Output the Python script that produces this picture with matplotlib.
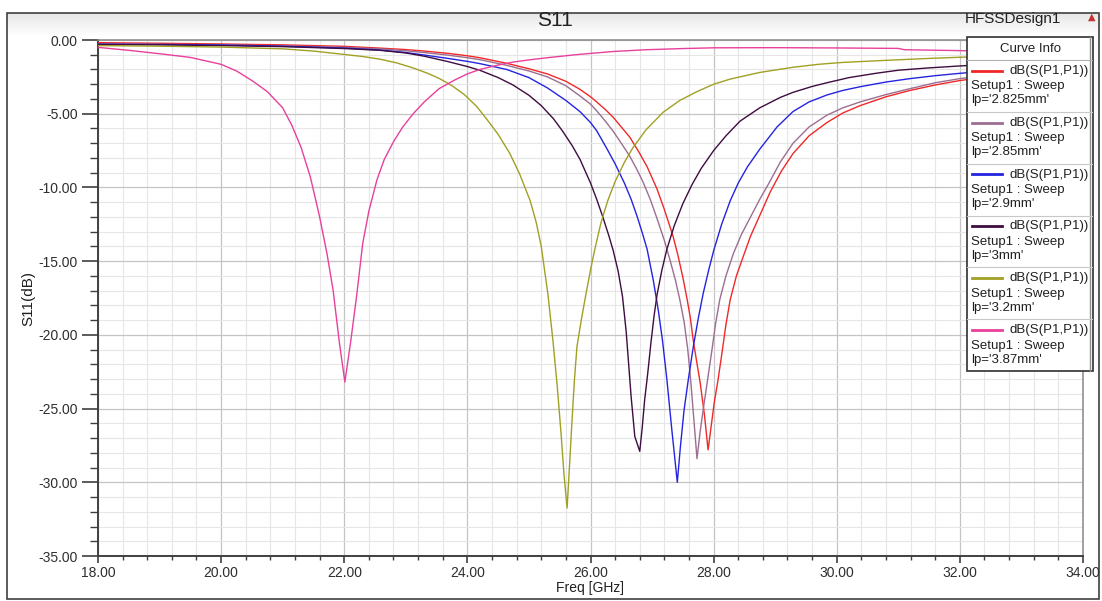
import matplotlib
matplotlib.use("Agg")
import matplotlib.pyplot as plt
import numpy as np
from matplotlib.patches import Rectangle

plt.rcParams['font.family'] = ['Liberation Sans', 'DejaVu Sans']

# ---------------- data ----------------
lp_labels = ["2.825mm", "2.85mm", "2.9mm", "3mm", "3.2mm", "3.87mm"]

freq_2825 = [18, 19, 20, 21, 22, 22.58, 23.0, 23.3, 23.67, 24.0, 24.2, 24.64, 25.0, 25.3, 25.6,
             25.83, 26.0, 26.1, 26.25, 26.37, 26.5, 26.64, 26.8, 26.92, 27.08, 27.2, 27.34,
             27.42, 27.5, 27.57, 27.62, 27.67, 27.72, 27.78, 27.85, 27.91, 27.96, 28.01, 28.07,
             28.14, 28.2, 28.27, 28.37, 28.48, 28.6, 28.75, 28.92, 29.1, 29.29, 29.55, 29.84,
             30.1, 30.38, 30.8, 31.19, 31.6, 32.0, 33.0, 34.0]
s11_2825 = [-0.18, -0.22, -0.27, -0.33, -0.43, -0.55, -0.65, -0.75, -0.9, -1.07, -1.2, -1.58, -1.95,
            -2.3, -2.8, -3.35, -3.85, -4.2, -4.75, -5.25, -5.9, -6.6, -7.7, -8.6, -10.1, -11.5,
            -13.3, -14.6, -16.1, -17.6, -18.8, -20.4, -21.7, -23.2, -25.4, -27.8, -26.2, -24.6,
            -23.1, -21.1, -19.3, -17.6, -16.0, -14.7, -13.3, -11.9, -10.3, -8.9, -7.7, -6.5,
            -5.6, -4.95, -4.45, -3.85, -3.42, -3.05, -2.75, -2.2, -1.9]

freq_285 = [18, 19, 20, 21, 22, 22.58, 23.0, 23.3, 23.67, 24.0, 24.2, 24.64, 25.0, 25.3, 25.6,
            25.83, 26.0, 26.1, 26.25, 26.37, 26.5, 26.64, 26.75, 26.85, 26.97, 27.08, 27.2,
            27.29, 27.38, 27.45, 27.52, 27.58, 27.63, 27.68, 27.73, 27.78, 27.84, 27.9, 27.97,
            28.03, 28.1, 28.2, 28.32, 28.45, 28.6, 28.75, 28.9, 29.08, 29.29, 29.55, 29.84,
            30.1, 30.38, 30.8, 31.19, 31.6, 32.0, 33.0, 34.0]
s11_285 = [-0.27, -0.3, -0.33, -0.4, -0.5, -0.6, -0.73, -0.85, -1.02, -1.2, -1.33, -1.72, -2.1,
           -2.5, -3.1, -3.8, -4.35, -4.8, -5.55, -6.2, -7.0, -7.9, -8.75, -9.6, -10.8, -12.1,
           -13.6, -14.9, -16.3, -17.6, -19.1, -21.0, -23.2, -25.8, -28.4, -26.6, -24.8, -23.1,
           -21.1, -19.3, -17.6, -16.0, -14.5, -13.2, -12.0, -10.8, -9.7, -8.3, -7.0, -5.9,
           -5.1, -4.6, -4.2, -3.7, -3.3, -2.9, -2.62, -2.1, -1.8]

freq_29 = [18, 19, 20, 21, 22, 22.58, 23.0, 23.3, 23.67, 24.0, 24.2, 24.64, 25.0, 25.3, 25.6,
           25.83, 26.0, 26.1, 26.27, 26.4, 26.55, 26.66, 26.76, 26.85, 26.92, 27.02, 27.1,
           27.17, 27.24, 27.32, 27.41, 27.46, 27.52, 27.59, 27.67, 27.75, 27.83, 27.92, 28.0,
           28.13, 28.27, 28.4, 28.55, 28.75, 29.03, 29.29, 29.55, 29.84, 30.1, 30.38, 30.8,
           31.19, 31.6, 32.0, 33.0, 34.0]
s11_29 = [-0.28, -0.3, -0.34, -0.42, -0.55, -0.68, -0.85, -1.02, -1.24, -1.45, -1.6, -2.0, -2.55,
          -3.25, -4.1, -4.86, -5.6, -6.15, -7.4, -8.4, -9.7, -10.8, -12.0, -13.2, -14.2, -16.3,
          -18.3, -20.4, -23.0, -26.4, -30.0, -27.6, -25.1, -23.0, -20.8, -18.9, -17.2, -15.6,
          -14.3, -12.5, -10.9, -9.7, -8.6, -7.4, -5.9, -4.85, -4.2, -3.73, -3.42, -3.17, -2.85,
          -2.62, -2.42, -2.26, -1.92, -1.7]

freq_3 = [18, 19, 20, 21, 22, 22.58, 23.0, 23.3, 23.67, 24.0, 24.2, 24.5, 24.74, 25.0, 25.2,
          25.4, 25.55, 25.7, 25.83, 26.0, 26.1, 26.2, 26.3, 26.37, 26.45, 26.52, 26.58, 26.62,
          26.66, 26.72, 26.76, 26.8, 26.84, 26.88, 26.93, 26.98, 27.03, 27.08, 27.16, 27.24,
          27.36, 27.5, 27.65, 27.8, 28.0, 28.2, 28.43, 28.75, 29.08, 29.29, 29.6, 29.84, 30.2,
          30.65, 31.0, 31.47, 32.0, 33.0, 34.0]
s11_3 = [-0.3, -0.33, -0.38, -0.45, -0.58, -0.7, -0.88, -1.1, -1.45, -1.8, -2.05, -2.55, -3.05,
         -3.75, -4.45, -5.35, -6.2, -7.15, -8.1, -9.7, -10.8, -12.0, -13.3, -14.3, -15.7, -17.4,
         -19.8, -22.0, -24.2, -26.9, -27.4, -27.9, -26.3, -24.4, -22.6, -20.6, -18.8, -17.3,
         -15.6, -14.2, -12.6, -11.1, -9.8, -8.7, -7.5, -6.5, -5.5, -4.6, -3.9, -3.55, -3.15,
         -2.9, -2.55, -2.25, -2.05, -1.9, -1.76, -1.55, -1.4]

freq_32 = [18, 19, 20, 21, 21.5, 22.0, 22.3, 22.58, 22.85, 23.12, 23.35, 23.54, 23.75, 23.95,
           24.15, 24.32, 24.5, 24.69, 24.85, 25.02, 25.12, 25.2, 25.31, 25.39, 25.46, 25.52,
           25.57, 25.62, 25.66, 25.7, 25.74, 25.78, 25.85, 25.91, 26.0, 26.07, 26.17, 26.28,
           26.4, 26.55, 26.69, 26.9, 27.18, 27.45, 27.73, 28.0, 28.27, 28.75, 29.29, 29.7,
           30.1, 30.9, 31.5, 32.0, 33.0, 34.0]
s11_32 = [-0.38, -0.42, -0.48, -0.6, -0.75, -0.98, -1.12, -1.3, -1.55, -1.9, -2.25, -2.6, -3.1,
          -3.7, -4.5, -5.4, -6.4, -7.7, -9.1, -10.9, -12.4, -14.0, -17.3, -20.4, -23.5, -26.6,
          -29.5, -31.75, -28.8, -25.8, -23.0, -20.8, -19.0, -17.6, -15.6, -14.2, -12.4, -10.9,
          -9.6, -8.3, -7.3, -6.1, -4.9, -4.1, -3.5, -3.0, -2.65, -2.2, -1.85, -1.65, -1.52,
          -1.36, -1.25, -1.17, -1.05, -0.98]

freq_387 = [18.0, 18.5, 19.0, 19.5, 20.0, 20.25, 20.5, 20.75, 21.0, 21.15, 21.3, 21.45, 21.6,
            21.72, 21.82, 21.92, 22.01, 22.1, 22.2, 22.3, 22.4, 22.53, 22.65, 22.8, 22.95, 23.12,
            23.3, 23.54, 23.8, 24.0, 24.2, 24.5, 24.74, 25.0, 25.3, 25.83, 26.37, 26.9, 27.5,
            28.0, 29.0, 30.0, 31.0, 31.1, 32.0, 33.0, 34.0]
s11_387 = [-0.5, -0.7, -0.93, -1.18, -1.65, -2.1, -2.75, -3.5, -4.6, -5.8, -7.3, -9.3, -12.0,
           -14.5, -17.0, -20.5, -23.2, -20.6, -17.4, -13.8, -11.6, -9.5, -8.1, -6.9, -5.9, -5.0,
           -4.2, -3.3, -2.7, -2.3, -2.0, -1.7, -1.5, -1.35, -1.2, -0.97, -0.78, -0.66, -0.58,
           -0.53, -0.52, -0.54, -0.57, -0.66, -0.72, -0.8, -0.85]

freqs = [freq_2825, freq_285, freq_29, freq_3, freq_32, freq_387]
s11s = [s11_2825, s11_285, s11_29, s11_3, s11_32, s11_387]

x_ticks = [18, 20, 22, 24, 26, 28, 30, 32, 34]
y_ticks = [-35, -30, -25, -20, -15, -10, -5, 0]

# ---------------- styles ----------------
colors = ["#f02828", "#9c6e90", "#2424e0", "#3e0c40", "#a0a024", "#e8409c"]
W, H = 1102, 601
fig = plt.figure(figsize=(W / 100, H / 100), dpi=100)

# background / frame
bg = fig.add_axes([0, 0, 1, 1], zorder=-5)
bg.set_xlim(0, W)
bg.set_ylim(H, 0)
bg.axis('off')
grad = np.linspace(0.90, 1.0, 50).reshape(-1, 1)
bg.imshow(grad, cmap='gray', vmin=0, vmax=1, extent=[7, 1099, 36, 13], aspect='auto', zorder=0)
bg.add_patch(Rectangle((7, 13), 1092, 586, fill=False, edgecolor='#404040', lw=1.2, zorder=1))
bg.text(555, 21, "S11", ha='center', va='center', fontsize=15, color='#202020')
bg.text(1013, 19, "HFSSDesign1", ha='center', va='center', fontsize=11, color='#202020')
bg.text(1092, 17, "\u25B2", ha='center', va='center', fontsize=7, color='#c83232',
        family=['DejaVu Sans'])

# main axes
ax = fig.add_axes([98 / W, 1 - 556 / H, 985 / W, 516 / H])
ax.set_facecolor('white')
for fr, s, c in zip(freqs, s11s, colors):
    ax.plot(fr, s, color=c, lw=1.0, zorder=3)

ax.set_xlim(18, 34)
ax.set_ylim(-35, 0)
ax.set_xticks(x_ticks)
ax.set_yticks(y_ticks)
ax.set_xticks(np.arange(18, 34.01, 0.4), minor=True)
ax.set_yticks(np.arange(-35, 0.01, 1), minor=True)
ax.set_xticklabels([f"{v:.2f}" for v in x_ticks])
ax.set_yticklabels([f"{v:.2f}" if v != 0 else "0.00" for v in y_ticks])
ax.grid(which='minor', color='#e6e6e6', lw=0.8, zorder=0)
ax.grid(which='major', color='#c4c4c4', lw=0.9, zorder=0)
ax.set_axisbelow(True)

ax.tick_params(axis='y', which='major', direction='out', length=11.5, width=1.2,
               color='#404040', labelsize=10, labelcolor='#2e2e2e', pad=3)
ax.tick_params(axis='y', which='minor', direction='out', length=5.5, width=1.0, color='#404040')
ax.tick_params(axis='x', which='major', direction='out', length=5, width=1.2,
               color='#404040', labelsize=10, labelcolor='#2e2e2e', pad=2)
ax.tick_params(axis='x', which='minor', direction='out', length=3, width=1.0, color='#404040')

for side in ['left', 'bottom']:
    ax.spines[side].set_color('#404040')
    ax.spines[side].set_linewidth(1.4)
for side in ['top', 'right']:
    ax.spines[side].set_color('#909090')
    ax.spines[side].set_linewidth(1.2)

ax.set_xlabel("Freq [GHz]", fontsize=10, color='#202020', labelpad=1)
ax.set_ylabel("S11(dB)", fontsize=11, color='#202020', labelpad=2)

# legend box ("Curve Info")
lx0, ly0, lw_, lh_ = 967, 37, 126, 334
lax = fig.add_axes([lx0 / W, 1 - (ly0 + lh_) / H, lw_ / W, lh_ / H], zorder=5)
lax.set_xlim(0, lw_)
lax.set_ylim(lh_, 0)
lax.axis('off')
lax.add_patch(Rectangle((0, 0), lw_, lh_, facecolor='white', edgecolor='#303030', lw=1.2,
                        clip_on=False))
lax.plot([lw_ - 3, lw_ - 3], [0, lh_], color='#909090', lw=1.0, clip_on=False)
lax.text(lw_ / 2, 11.5, "Curve Info", ha='center', va='center', fontsize=9.5, color='#202020')
hdr = 23
row = (lh_ - hdr) / len(lp_labels)
lax.plot([0, lw_], [hdr, hdr], color='#b0b0b0', lw=0.8)
for i, (lab, c) in enumerate(zip(lp_labels, colors)):
    t = hdr + i * row
    if i > 0:
        lax.plot([0, lw_], [t, t], color='#c8c8c8', lw=0.8)
    lax.plot([5, 35], [t + 10.7, t + 10.7], color=c, lw=2.0)
    lax.text(43, t + 11, "dB(S(P1,P1))", ha='left', va='center', fontsize=9.5, color='#202020')
    lax.text(4, t + 26.5, "Setup1 : Sweep", ha='left', va='center', fontsize=9.5, color='#202020')
    lax.text(4, t + 40.5, f"lp='{lab}'", ha='left', va='center', fontsize=9.5, color='#202020')

fig.savefig("out.png", dpi=100)
